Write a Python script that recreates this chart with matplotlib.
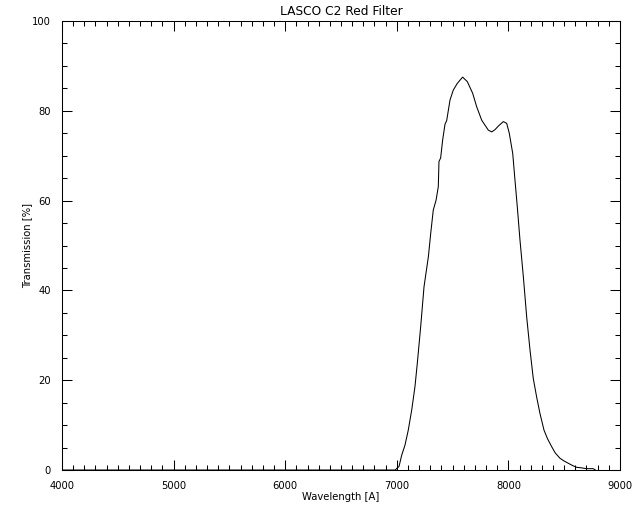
import matplotlib.pyplot as plt
from matplotlib.ticker import MultipleLocator

# transmission curve (wavelength in Angstrom, percent)
wavelength = [4000, 6985, 7020, 7044, 7074, 7103, 7134, 7163, 7184, 7214,
              7244, 7283, 7304, 7327, 7352, 7372, 7378, 7393, 7411, 7432,
              7447, 7477, 7506, 7542, 7590, 7632, 7680, 7716, 7761, 7820,
              7851, 7880, 7910, 7955, 7985, 8008, 8039, 8059, 8080, 8104,
              8134, 8164, 8194, 8223, 8253, 8283, 8319, 8350, 8388, 8420,
              8463, 8500, 8537, 8575, 8612, 8650, 8702, 8760, 8780]
transmission = [0.0, 0.0, 0.8, 3.3, 5.6, 8.9, 13.4, 18.6, 23.8, 31.9,
                40.8, 47.5, 52.7, 57.9, 60.1, 63.1, 68.7, 69.5, 73.5, 77.0,
                77.8, 82.4, 84.6, 86.1, 87.5, 86.5, 83.9, 80.9, 77.9, 75.7,
                75.3, 75.8, 76.6, 77.6, 77.2, 75.0, 70.5, 64.6, 58.6, 51.2,
                43.1, 34.1, 26.7, 20.4, 16.3, 12.6, 8.9, 7.0, 5.2, 3.8,
                2.6, 2.0, 1.5, 1.0, 0.6, 0.5, 0.3, 0.3, 0.0]

TITLE = 'LASCO C2 Red Filter'
XLABEL = 'Wavelength [A]'
YLABEL = 'Transmission [%]'
FS = 7.2

fig = plt.figure(figsize=(6.4, 5.12), dpi=100)
ax = fig.add_axes([0.0969, 0.0820, 0.8718, 0.8770])

ax.plot(wavelength, transmission, color='black', lw=0.75)

ax.set_xlim(4000, 9000)
ax.set_ylim(0, 100)
ax.xaxis.set_major_locator(MultipleLocator(1000))
ax.xaxis.set_minor_locator(MultipleLocator(100))
ax.yaxis.set_major_locator(MultipleLocator(20))
ax.yaxis.set_minor_locator(MultipleLocator(5))

ax.tick_params(which='both', direction='in', top=True, right=True,
               width=0.75, labelsize=FS, pad=8)
ax.tick_params(which='major', length=7.2)
ax.tick_params(which='minor', length=3.6)
for s in ax.spines.values():
    s.set_linewidth(0.75)

ax.set_title(TITLE, fontsize=8.8, pad=4)
ax.set_xlabel(XLABEL, fontsize=FS, labelpad=0.5)
ax.set_ylabel(YLABEL, fontsize=FS, labelpad=0)

fig.savefig('out.png', dpi=100)
